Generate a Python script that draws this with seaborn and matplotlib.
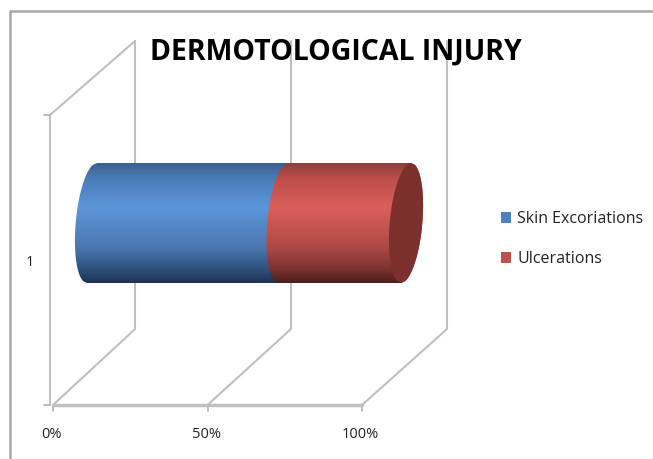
import numpy as np
import pandas as pd
import matplotlib
matplotlib.use('Agg')
import matplotlib.pyplot as plt
import seaborn as sns
from matplotlib.colors import LinearSegmentedColormap
from matplotlib.lines import Line2D
from matplotlib.patches import Patch, PathPatch, Polygon
from matplotlib.path import Path

# data
category = ['1']
series_names = ['Skin Excoriations', 'Ulcerations']
skin_excoriations = [61]
ulcerations = [39]
x_ticks = [0, 50, 100]
x_tick_labels = ['0%', '50%', '100%']

W, H = 653, 459
blue_stops = ['#3a618f', '#4b7cb5', '#5c96da', '#4a79b0', '#30527f', '#1e3453']
red_stops = ['#8f3f3d', '#bb4e4b', '#db5f5a', '#ad4a47', '#7d3331', '#4c1e1c']
grid_col = '#c0c0c0'

sns.set_theme(style='white')
plt.rcParams['font.family'] = ['Open Sans', 'DejaVu Sans']

fig = plt.figure(figsize=(W / 100, H / 100), dpi=100)
ax = fig.add_axes([0, 0, 1, 1])
ax.set_axis_off()


# axes are laid out so the middle depth of the 3d box is the real scale
def px_x(px):
    return (px - 92) / 3.14


def px_y(py):
    return (py - 223) / 150


ax.set_xlim(px_x(0), px_x(W))
ax.set_ylim(px_y(H), px_y(0))

# stacked by overdrawing: total first, then first series on top
df = pd.DataFrame({'cat': [0], 'total': np.add(skin_excoriations, ulcerations),
                   'skin': skin_excoriations})
sns.barplot(data=df, x='total', y='cat', orient='h', color='#c0504d', width=0.8,
            native_scale=True, saturation=1, ax=ax, zorder=3)
sns.barplot(data=df, x='skin', y='cat', orient='h', color='#4f81bd', width=0.8,
            native_scale=True, saturation=1, ax=ax, zorder=4)
ax.set_axis_off()
red_bar, blue_bar = ax.patches[0], ax.patches[1]

ELL_A, ELL_S = 5.2, 1.6


def arc(cx, y0, y1, side):
    u = np.linspace(-1, 1, 60)
    x = cx - ELL_S * u + side * ELL_A * np.sqrt(1 - u ** 2)
    return x, (y0 + y1) / 2 + u * (y1 - y0) / 2


def body(x0, x1, y0, y1):
    xa, ya = arc(x0, y0, y1, -1)
    xb, yb = arc(x1, y0, y1, 1)
    return np.r_[np.c_[xa, ya], np.c_[xb, yb][::-1]]


for bar, stops, z, start in [(blue_bar, blue_stops, 4, 0), (red_bar, red_stops, 5, skin_excoriations[0])]:
    y0, y1 = bar.get_y(), bar.get_y() + bar.get_height()
    x1 = bar.get_x() + bar.get_width()
    outline = body(start, x1, y0, y1)
    clip = PathPatch(Path(outline, closed=False), transform=ax.transData)
    cmap = LinearSegmentedColormap.from_list(
        'cyl', list(zip([0, 0.12, 0.37, 0.7, 0.88, 1], stops)))
    im = ax.imshow(np.linspace(0, 1, 200).reshape(-1, 1), cmap=cmap, aspect='auto',
                   extent=(start - 10, x1 + 10, y1, y0), zorder=z)
    im.set_clip_path(clip)
    bar.set_visible(False)

# end cap of the cylinder
y0, y1 = red_bar.get_y(), red_bar.get_y() + red_bar.get_height()
end = skin_excoriations[0] + ulcerations[0]
xl, yl = arc(end, y0, y1, -1)
xr, yr = arc(end, y0, y1, 1)
ax.add_patch(Polygon(np.r_[np.c_[xl, yl], np.c_[xr, yr][::-1]], closed=True,
                     facecolor='#7c302e', edgecolor='none', zorder=6))
ax.set_xlim(px_x(0), px_x(W))
ax.set_ylim(px_y(H), px_y(0))


# 3d box gridlines
def front_x(v):
    return px_x(53 + 3.09 * v)


def back_x(v):
    return px_x(135 + 3.12 * v)


floor_y, back_floor_y, top_y, wall_top_y = px_y(405), px_y(329), px_y(41), px_y(115)
for v, lab in zip(x_ticks, x_tick_labels):
    ax.plot([front_x(v), back_x(v), back_x(v)], [floor_y, back_floor_y, top_y],
            color=grid_col, lw=1.5, zorder=1)
    ax.plot([front_x(v), front_x(v)], [floor_y, px_y(411)], color='#b0b0b0', lw=1.2, zorder=1)
    ax.text(front_x(v) - 0.4, px_y(434), lab, ha='center', va='center', fontsize=10.5, color='#222222')
ax.plot([front_x(0), front_x(100)], [floor_y, floor_y], color=grid_col, lw=2.5, zorder=1)
ax.plot([px_x(50), px_x(50), px_x(135)], [floor_y, wall_top_y, top_y], color=grid_col, lw=1.5, zorder=1)
ax.plot([px_x(44), px_x(50)], [wall_top_y, wall_top_y], color='#b0b0b0', lw=1.2, zorder=1)
ax.plot([px_x(44), px_x(50)], [floor_y, floor_y], color='#b0b0b0', lw=1.2, zorder=1)
ax.text(px_x(30), px_y(262), category[0], ha='center', va='center', fontsize=10.5, color='#222222')

ax.text(px_x(336), px_y(52), 'DERMOTOLOGICAL INJURY', ha='center', va='center',
        fontsize=20.5, fontweight='bold', color='black', zorder=8)

# outer chart border, open at the bottom and right
fig.add_artist(Line2D([10 / W, 10 / W, 1], [0, 1 - 11 / H, 1 - 11 / H], color='#a8a8a8', lw=1.8))

handles = [Patch(facecolor='#4f81bd', edgecolor='none'), Patch(facecolor='#c0504d', edgecolor='none')]
ax.legend(handles, series_names, loc='center left', bbox_to_anchor=(490 / W, 1 - 239 / H), frameon=False,
          fontsize=11.5, handlelength=0.62, handleheight=0.62, handletextpad=0.38, labelspacing=1.5,
          labelcolor='#222222', borderpad=0.2)

fig.savefig('out.png', dpi=100)
